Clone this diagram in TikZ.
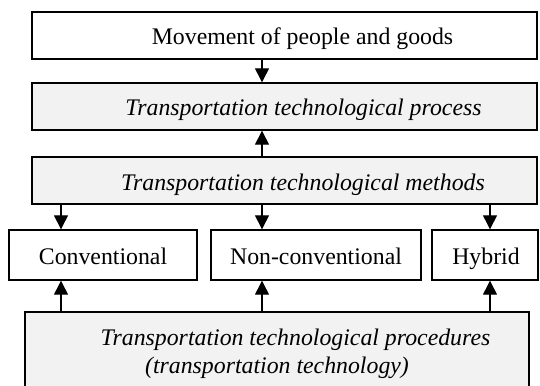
\documentclass[tikz,border=0pt]{standalone}
\usepackage{fontspec}
\setmainfont{Liberation Serif}
\usetikzlibrary{arrows.meta}
\definecolor{boxgray}{HTML}{F2F2F2}
\tikzset{
  box/.style={draw=black, line width=1.4pt, rectangle, inner sep=0pt},
  graybox/.style={box, fill=boxgray},
  lbl/.style={inner sep=0pt, anchor=base, font=\fontsize{23.8}{28}\selectfont},
  ilbl/.style={lbl, font=\fontsize{23.8}{28}\selectfont\itshape},
  arr/.style={line width=1.3pt, -{Triangle[length=14pt,width=14pt]}}
}
\newcommand{\bx}[6]{\node[#1, minimum width={(#4)-(#2)}, minimum height={(#5)-(#3)}] (#6) at ({((#2)+(#4))/2},{-((#3)+(#5))/2}) {};}
\begin{document}
\begin{tikzpicture}[x=1pt,y=1pt]
\useasboundingbox (0,0) rectangle (540,-385);
\fill[white] (0,0) rectangle (540,-385);
% boxes
\bx{box}{32}{12}{537}{59}{b1}
\bx{graybox}{32}{83}{537}{130}{b2}
\bx{graybox}{32}{157}{537}{204}{b3}
\bx{box}{9}{230}{197}{280}{b4}
\bx{box}{211}{230}{421}{280}{b5}
\bx{box}{432}{230}{538}{280}{b6}
\bx{graybox}{25}{312}{529}{400}{b7}
% texts
\node[lbl] (t1) at (302.5,-45) {Movement of people and goods};
\node[ilbl] (t2) at (303.5,-116) {Transportation technological process};
\node[ilbl] (t3) at (303,-190) {Transportation technological methods};
\node[lbl] (t4) at (103,-264) {Conventional};
\node[lbl] (t5) at (316,-264) {Non-conventional};
\node[lbl] (t6) at (486,-264) {Hybrid};
\node[ilbl] (t7) at (295.5,-345) {Transportation technological procedures};
\node[ilbl] (t8) at (277,-373) {(transportation technology)};
% arrow columns
\coordinate (cl) at (61,0);
\coordinate (cm) at (262,0);
\coordinate (cr) at (490,0);
\draw[arr] (b1.south -| cm) -- (b2.north -| cm);
\draw[arr] (b3.north -| cm) -- (b2.south -| cm);
\draw[arr] (b3.south -| cl) -- (b4.north -| cl);
\draw[arr] (b3.south -| cm) -- (b5.north -| cm);
\draw[arr] (b3.south -| cr) -- (b6.north -| cr);
\draw[arr] (b7.north -| cl) -- (b4.south -| cl);
\draw[arr] (b7.north -| cm) -- (b5.south -| cm);
\draw[arr] (b7.north -| cr) -- (b6.south -| cr);
\end{tikzpicture}
\end{document}
